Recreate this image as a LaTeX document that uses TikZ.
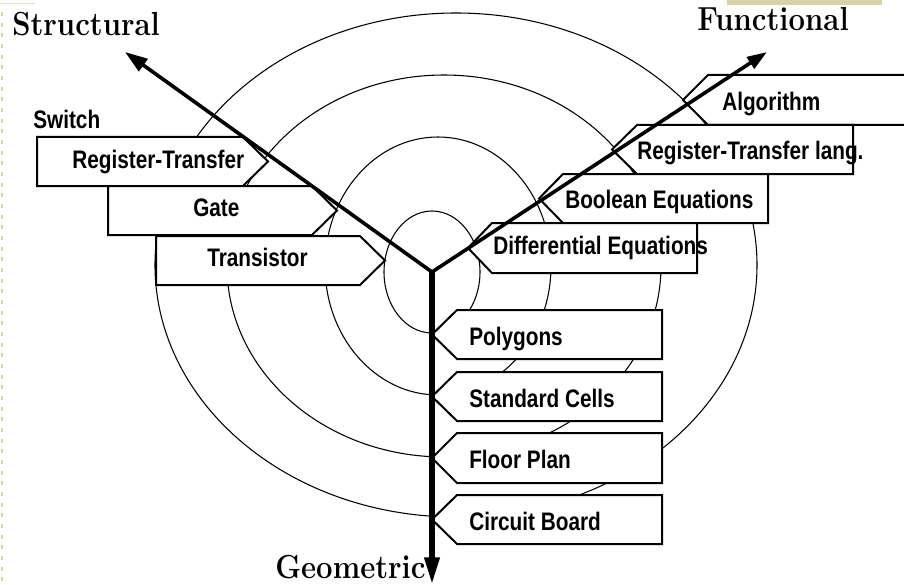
\documentclass[tikz,border=0pt]{standalone}
\usepackage{fontspec}
\usetikzlibrary{arrows.meta}
\newfontfamily\boxfont[FakeStretch=0.82]{Liberation Sans}
\newfontfamily\labfont[FakeStretch=0.88]{Latin Modern Roman}
\definecolor{slidebeige}{RGB}{214,211,168}
\begin{document}
\begin{tikzpicture}[x=0.75pt,y=-0.75pt,
  ring/.style={draw=black,line width=0.8pt},
  boxline/.style={draw=black,fill=white,line width=1.5pt,line join=miter},
  axisline/.style={line width=2.7pt},
  vaxis/.style={line width=3.8pt},
  boxtext/.style={inner sep=0pt,anchor=base west,font=\boxfont\bfseries\fontsize{19}{22}\selectfont},
  axislabel/.style={inner sep=0pt,anchor=base west,font=\labfont\bfseries\fontsize{25}{30}\selectfont}]
\useasboundingbox (0,0) rectangle (904,585);
% slide decoration
\fill[slidebeige] (727,0) rectangle (882,5);
\draw[slidebeige,line width=2.2pt,dash pattern=on 3pt off 5pt] (2,12) -- (2,585);
\draw[slidebeige!70,line width=0.6pt] (0,3) -- (35,3);
% rings
\draw[ring] (432,272) ellipse [x radius=48, y radius=61];
\draw[ring] (438,266) ellipse [x radius=113, y radius=129];
\draw[ring] (444,266) ellipse [x radius=217, y radius=191];
\draw[ring] (456,265) ellipse [x radius=301, y radius=252];
% structural boxes
\draw[boxline] (37,137) -- (243,137) -- (268,161.5) -- (243,186) -- (37,186) -- cycle;
\draw[boxline] (108,186) -- (312,186) -- (337,210.5) -- (312,235) -- (108,235) -- cycle;
\draw[boxline] (156,236) -- (360,236) -- (385,260.5) -- (360,285) -- (156,285) -- cycle;
% functional boxes
\draw[boxline] (910,75) -- (708,75) -- (683,100) -- (708,125) -- (910,125) -- cycle;
\draw[boxline] (853,125) -- (637,125) -- (612,149.5) -- (637,174) -- (853,174) -- cycle;
\draw[boxline] (768,174) -- (563,174) -- (539,198.5) -- (563,223) -- (768,223) -- cycle;
\draw[boxline] (697,223) -- (492,223) -- (468,248) -- (492,273) -- (697,273) -- cycle;
% geometric boxes
\draw[boxline] (662,310) -- (457,310) -- (432,334.5) -- (457,359) -- (662,359) -- cycle;
\draw[boxline] (662,372) -- (457,372) -- (432,396.5) -- (457,421) -- (662,421) -- cycle;
\draw[boxline] (662,433) -- (457,433) -- (432,458) -- (457,483) -- (662,483) -- cycle;
\draw[boxline] (662,495) -- (457,495) -- (432,519.5) -- (457,544) -- (662,544) -- cycle;
% texts
\node[boxtext] (tsw) at (33,128) {Switch};
\node[boxtext] (trt) at (72,168) {Register-Transfer};
\node[boxtext] (tga) at (193,216) {Gate};
\node[boxtext] (ttr) at (207,266) {Transistor};
\node[boxtext] (tal) at (722,111) {Algorithm};
\node[boxtext] (trl) at (637,160) {Register-Transfer lang.};
\node[boxtext] (tbo) at (565,208) {Boolean Equations};
\node[boxtext] (tde) at (493,254) {Differential Equations};
\node[boxtext] (tpo) at (469,345) {Polygons};
\node[boxtext] (tsc) at (469,407) {Standard Cells};
\node[boxtext] (tfp) at (469,468) {Floor Plan};
\node[boxtext] (tcb) at (469,530) {Circuit Board};
\node[axislabel] (lst) at (12,36) {Structural};
\node[axislabel] (lfu) at (697,31) {Functional};
\node[axislabel] (lge) at (275,578) {Geometric};
% axes
\coordinate (O) at (432,272);
\coordinate (S) at (125,52);
\coordinate (F) at (767,52);
\coordinate (G) at (432,584);
\draw[axisline,-{Triangle[length=17pt,width=11pt]}] (O) -- (S);
\draw[axisline,-{Triangle[length=15pt,width=10pt]}] (O) -- (F);
\draw[vaxis,-{Triangle[length=20pt,width=11pt]}] ([yshift=1pt]O) -- (G);
\end{tikzpicture}
\end{document}
